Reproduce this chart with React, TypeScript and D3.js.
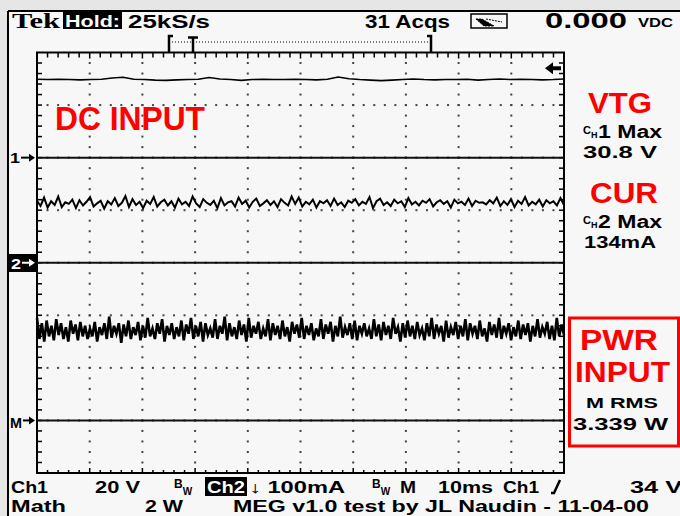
import * as d3 from "d3";
import { useEffect } from "react";

// scope settings
const timePerDiv = 10; // ms
const ch1VoltsPerDiv = 20;
const ch2MilliampsPerDiv = 100;
const mathWattsPerDiv = 2;
const ch1GroundDiv = 2;
const ch2GroundDiv = 0;
const mathGroundDiv = -3;
const triggerLevel = 34; // V on ch1

// traces, equally spaced over 100 ms
const ch1Volts = [
  29.8, 29.7, 29.8, 29.7, 29.6, 29.7, 29.8, 30.3, 30.6, 29.8, 29.7, 29.5, 29.4, 29.6, 29.7, 29.8,
  30.5, 29.9, 29.7, 29.4, 29.7, 29.8, 29.7, 29.7, 29.8, 29.7, 29.6, 29.8, 30.7, 30.0, 29.7, 29.5,
  29.3, 29.5, 29.7, 29.9, 29.7, 29.6, 29.7, 29.7, 29.8, 29.5, 29.7, 29.9, 29.7, 29.8, 29.7, 29.6,
  29.7, 29.9,
];

const ch2Milliamps = [
  118, 108, 124, 105, 117, 110, 126, 106, 115, 112, 120, 104, 119, 109, 116, 125, 107, 113, 118, 103,
  117, 111, 123, 108, 114, 127, 106, 121, 110, 116, 104, 118, 112, 125, 107, 115, 120, 109, 117, 105,
  122, 111, 116, 108, 126, 113, 106, 121, 114, 110, 118, 104, 123, 109, 115, 117, 107, 124, 112, 118,
  105, 116, 122, 108, 113, 119, 110, 117, 106, 121, 114, 109, 126, 112, 124, 107, 116, 111, 120, 105,
  117, 113, 119, 108, 122, 110, 115, 106, 118, 114, 121, 109, 116, 112, 125, 104, 117, 122, 110, 115,
  108, 120, 113, 117, 106, 123, 111, 116, 109, 118, 114, 121, 107, 115, 119, 112, 117, 105, 120, 113,
  116, 110, 122, 108, 118, 114, 115, 111, 119, 113, 124, 108, 117, 110, 121, 106, 118, 112, 125, 109,
  116, 111, 120, 107, 119, 113, 117, 109, 123, 110,
];

const mathWatts = [
  3.9, 3.1, 3.7, 3.0, 3.8, 3.2, 3.6, 3.05, 3.85, 3.25, 3.7, 3.1, 3.55, 3.0, 3.8, 3.3, 3.65, 3.05, 3.75, 3.2,
  3.6, 3.1, 3.5, 3.2, 3.75, 3.0, 3.55, 3.25, 3.7, 3.1, 3.95, 3.15, 3.6, 3.3, 3.7, 2.95, 3.65, 3.2, 3.8, 3.1,
  3.55, 3.25, 3.75, 3.05, 3.6, 3.15, 3.9, 3.2, 3.5, 3.1, 3.7, 3.3, 3.85, 3.0, 3.6, 3.25, 3.7, 3.1, 3.55, 3.2,
  3.8, 3.05, 3.65, 3.3, 3.9, 3.1, 3.6, 3.2, 3.75, 3.0, 3.7, 3.25, 3.5, 3.15, 3.85, 3.1, 3.6, 3.3, 3.95, 3.05,
  3.7, 3.2, 3.55, 3.1, 3.8, 3.25, 3.65, 3.0, 3.9, 3.15, 3.6, 3.3, 3.75, 3.1, 3.5, 3.2, 3.85, 3.05, 3.7, 3.25,
  3.6, 3.1, 3.8, 3.2, 3.55, 3.0, 3.75, 3.3, 3.65, 3.15, 3.9, 3.1, 3.6, 3.25, 3.7, 3.05, 3.5, 3.2, 3.85, 3.1,
  3.65, 3.3, 3.75, 3.0, 3.6, 3.2, 3.95, 3.15, 3.55, 3.25, 3.7, 3.1, 3.8, 3.05, 3.6, 3.3, 3.7, 3.2, 3.5, 3.1,
  3.85, 3.2, 3.65, 3.05, 3.75, 3.25, 3.6, 3.1, 3.9, 3.3, 3.55, 3.0, 3.7, 3.15, 3.8, 3.2, 3.6, 3.1, 3.75, 3.25,
  3.5, 3.05, 3.7, 3.2, 3.9, 3.1, 3.65, 3.3, 3.6, 3.0, 3.8, 3.15, 3.55, 3.25, 3.75, 3.1, 3.6, 3.2, 3.85, 3.05,
  3.7, 3.3, 3.6, 3.1, 3.8, 3.2, 3.5, 3.0, 3.75, 3.25, 3.65, 3.15, 3.9, 3.1, 3.6, 3.3, 3.7, 3.05, 3.55, 3.2,
  3.8, 3.1, 3.65, 3.25, 3.7, 3.0, 3.6, 3.2, 3.85, 3.15, 3.55, 3.3, 3.75, 3.1, 3.6, 3.05, 3.9, 3.2, 3.65, 3.25,
];

const RED = "#ff0000";
const FONT = "'Liberation Sans', Arial, sans-serif";

const App = () => {
  useEffect(() => {
    d3.select("#scope").selectAll("*").remove();

    const W = 680,
      H = 516;
    const left = 37,
      right = 564,
      top = 52.5,
      bottom = 473;

    const svg = d3
      .select("#scope")
      .append("svg")
      .attr("width", W)
      .attr("height", H)
      .style("position", "absolute")
      .style("left", 0)
      .style("top", 0)
      .style("font-family", FONT)
      .style("font-weight", "bold");

    // time (ms) and screen divisions
    const x = d3.scaleLinear().domain([0, timePerDiv * 10]).range([left, right]);
    const div = d3.scaleLinear().domain([4, -4]).range([top, bottom]);

    // background + frame
    svg.append("rect").attr("width", W).attr("height", H).attr("fill", "#e6e6e6");
    svg.append("rect").attr("x", 8).attr("y", 11).attr("width", W - 8).attr("height", H - 11).attr("fill", "#f7f7f7");
    svg.append("line").attr("x1", 8).attr("x2", W).attr("y1", 11).attr("y2", 11).attr("stroke", "#000").attr("stroke-width", 2);
    svg.append("line").attr("x1", 8).attr("x2", 8).attr("y1", 11).attr("y2", H).attr("stroke", "#000").attr("stroke-width", 2);

    // graticule dots
    const dots = svg.append("g").attr("fill", "#444");
    d3.range(1, 10).forEach((k) => {
      d3.range(1, 40).forEach((j) => {
        dots.append("rect").attr("x", x(k * timePerDiv) - 1).attr("y", div(4 - j * 0.2) - 1).attr("width", 2).attr("height", 2);
      });
    });
    d3.range(1, 8).forEach((j) => {
      d3.range(1, 50).forEach((i) => {
        dots.append("rect").attr("x", x(i * timePerDiv / 5) - 1).attr("y", div(4 - j) - 1).attr("width", 2).attr("height", 2);
      });
    });

    // border ticks
    const ticks = svg.append("g").attr("stroke", "#000").attr("stroke-width", 1.5);
    d3.range(1, 50).forEach((i) => {
      const xx = x(i * timePerDiv / 5);
      const len = i % 5 === 0 ? 6 : 5;
      ticks.append("line").attr("x1", xx).attr("x2", xx).attr("y1", top).attr("y2", top + len);
      ticks.append("line").attr("x1", xx).attr("x2", xx).attr("y1", bottom).attr("y2", bottom - (i % 5 === 0 ? 5 : 3));
    });
    d3.range(1, 40).forEach((j) => {
      const yy = div(4 - j * 0.2);
      ticks.append("line").attr("x1", left).attr("x2", left + 5).attr("y1", yy).attr("y2", yy);
      ticks.append("line").attr("x1", right).attr("x2", right - 5).attr("y1", yy).attr("y2", yy);
    });
    svg.append("rect").attr("x", left).attr("y", top).attr("width", right - left).attr("height", bottom - top)
      .attr("fill", "none").attr("stroke", "#000").attr("stroke-width", 2);

    // ground reference lines
    [ch1GroundDiv, ch2GroundDiv, mathGroundDiv].forEach((g) => {
      svg.append("line").attr("x1", left).attr("x2", right).attr("y1", div(g)).attr("y2", div(g))
        .attr("stroke", "#111").attr("stroke-width", 2);
    });

    // traces
    const trace = (vals: number[], perDiv: number, ground: number, width: number) => {
      const line = d3
        .line<number>()
        .x((_, i) => x((i / (vals.length - 1)) * timePerDiv * 10))
        .y((d) => div(ground + d / perDiv));
      svg.append("path").datum(vals).attr("d", line).attr("fill", "none")
        .attr("stroke", "#000").attr("stroke-width", width).attr("stroke-linejoin", "miter");
    };
    trace(ch1Volts, ch1VoltsPerDiv, ch1GroundDiv, 1.6);
    trace(ch2Milliamps, ch2MilliampsPerDiv, ch2GroundDiv, 2);
    trace(mathWatts, mathWattsPerDiv, mathGroundDiv, 2.6);

    // trigger level arrow
    const ty = div(ch1GroundDiv + triggerLevel / ch1VoltsPerDiv);
    svg.append("path").attr("d", `M545,${ty} L553,${ty - 6} L553,${ty + 6} Z`).attr("fill", "#000");
    svg.append("rect").attr("x", 553).attr("y", ty - 2).attr("width", 8).attr("height", 4).attr("fill", "#000");

    // record/trigger bracket
    const br = svg.append("g").attr("stroke", "#000");
    br.append("line").attr("x1", 172).attr("x2", 430).attr("y1", 42).attr("y2", 42).attr("stroke-width", 1).attr("stroke-dasharray", "1,2");
    br.append("path").attr("d", "M173,36 L169,36 L169,52").attr("fill", "none").attr("stroke-width", 2.5);
    br.append("path").attr("d", "M188,37.5 L198,37.5 M193,37 L193,52").attr("fill", "none").attr("stroke-width", 2.5);
    br.append("path").attr("d", "M427,36 L431,36 L431,52").attr("fill", "none").attr("stroke-width", 2.5);

    const text = (
      t: string, xx: number, yy: number, size: number, w: number | null,
      fill = "#000", family: string | null = null
    ) => {
      const el = svg.append("text").attr("x", xx).attr("y", yy).attr("font-size", size).attr("fill", fill).text(t);
      if (w) el.attr("textLength", w).attr("lengthAdjust", "spacingAndGlyphs");
      if (family) el.attr("font-family", family);
      return el;
    };

    // "C_H1 Max" style label: small C, smaller subscript H, then the rest
    const chLabel = (rest: string, xx: number, yy: number) => {
      const el = svg.append("text").attr("x", xx).attr("y", yy).attr("font-size", 18);
      el.append("tspan").attr("font-size", 11).attr("dy", -4).text("C");
      el.append("tspan").attr("font-size", 9).attr("dy", 4).text("H");
      el.append("tspan").attr("x", xx + 15).attr("textLength", 64).attr("lengthAdjust", "spacingAndGlyphs").text(rest);
    };

    // "B_W" bandwidth-limit marker
    const bwLabel = (xx: number, yy: number) => {
      const el = svg.append("text").attr("x", xx).attr("y", yy).attr("font-size", 12);
      el.append("tspan").attr("dy", -5).text("B");
      el.append("tspan").attr("font-size", 10).attr("dy", 7).text("W");
    };

    // top status line
    text("Tek", 12, 28, 20, 48, "#000", "'Liberation Serif', serif");
    svg.append("rect").attr("x", 63).attr("y", 12).attr("width", 59).attr("height", 17).attr("fill", "#000");
    text("Hold:", 65, 27, 16, 55, "#fff");
    text("25kS/s", 128, 28, 18, 82);
    text("31 Acqs", 365, 28, 18, 85);
    svg.append("rect").attr("x", 471).attr("y", 14).attr("width", 36).attr("height", 14).attr("fill", "none").attr("stroke", "#000").attr("stroke-width", 1.5);
    svg.append("path").attr("d", "M476,19 L482,19 L494,26 L484,26 Z M486,19 L502,22").attr("fill", "#000").attr("stroke", "#000").attr("stroke-width", 1).attr("stroke-dasharray", "2,1");
    text("0.000", 545, 28, 22, 82);
    text("VDC", 638, 27, 13, 35);

    // channel markers
    text("1", 10, 163, 15, 10);
    svg.append("rect").attr("x", 8).attr("y", 254).attr("width", 29).attr("height", 18).attr("fill", "#000");
    text("2", 11, 269, 15, 10, "#fff");
    text("M", 10, 428, 15, 12);
    const arrow = (yy: number, color: string, x0: number) => {
      svg.append("line").attr("x1", x0).attr("x2", 31).attr("y1", yy).attr("y2", yy).attr("stroke", color).attr("stroke-width", 2);
      svg.append("path").attr("d", `M35,${yy} L29,${yy - 4} L29,${yy + 4} Z`).attr("fill", color);
    };
    arrow(div(ch1GroundDiv), "#000", 21);
    arrow(div(ch2GroundDiv), "#fff", 22);
    arrow(div(mathGroundDiv), "#000", 23);

    // red annotations
    text("DC INPUT", 55, 130, 34, 150, RED);
    text("VTG", 588, 113, 29, 64, RED);
    chLabel("1 Max", 583, 138);
    text("30.8 V", 583, 158, 17, 74);
    text("CUR", 590, 203, 29, 68, RED);
    chLabel("2 Max", 583, 228);
    text("134mA", 584, 248, 17, 72);
    svg.append("rect").attr("x", 569.5).attr("y", 318).attr("width", 109).attr("height", 128)
      .attr("fill", "none").attr("stroke", RED).attr("stroke-width", 3);
    text("PWR", 580, 350, 30, 78, RED);
    text("INPUT", 575, 382, 30, 95, RED);
    text("M RMS", 586, 408, 15, 72);
    text("3.339 W", 573, 430, 17, 95);

    // bottom settings lines
    text("Ch1", 11, 493, 16, 37);
    text("20 V", 95, 493, 16, 45);
    bwLabel(174, 493);
    svg.append("rect").attr("x", 205).attr("y", 477).attr("width", 42).attr("height", 19).attr("fill", "#000");
    text("Ch2", 207, 493, 16, 38, "#fff");
    text("↓ 100mA", 249, 493, 16, 96);
    bwLabel(372, 493);
    text("M", 400, 493, 16, 16);
    text("10ms", 438, 493, 16, 55);
    text("Ch1", 503, 493, 16, 36);
    svg.append("path").attr("d", "M551,493 L554,493 L560,480").attr("fill", "none").attr("stroke", "#000").attr("stroke-width", 2.5);
    text("34 V", 630, 493, 16, 52);
    text("Math", 11, 512, 16, 55);
    text("2 W", 145, 512, 16, 38);
    text("MEG v1.0 test by JL Naudin - 11-04-00", 233, 512, 16, 416);
  }, []);

  return <div id="scope" />;
};

export default App;
